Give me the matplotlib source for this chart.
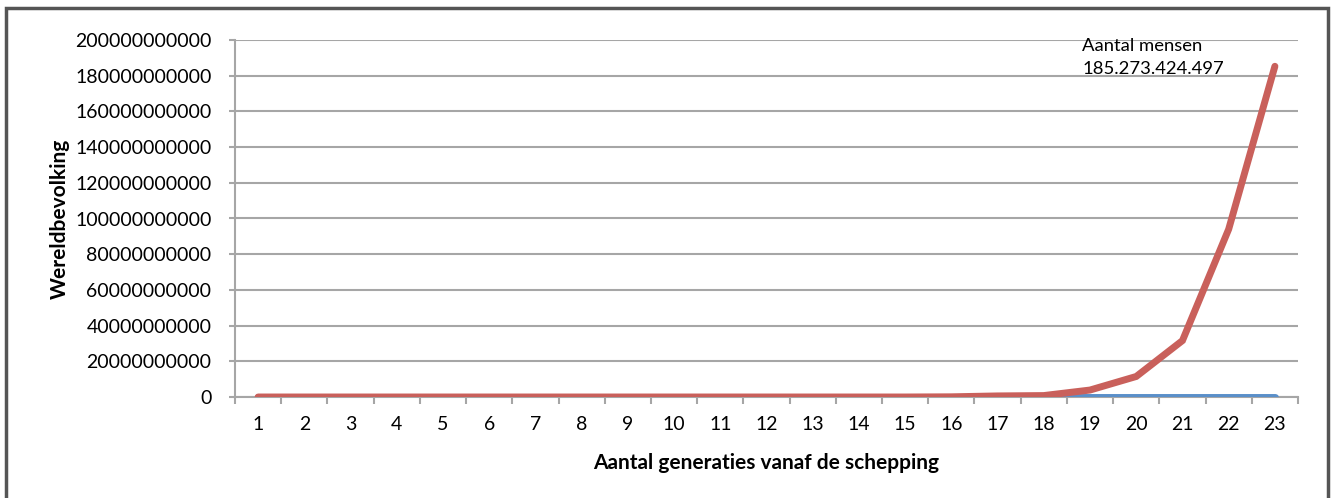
######################################
# Wereldbevolking per generatie
# line chart (Excel look)
######################################

import numpy as np

import matplotlib as mpl

import matplotlib.pyplot as plt

from matplotlib.patches import Rectangle


################
### Data
################

# generations since creation
generaties = list(range(1, 24))

# number of people (red series)
mensen = [0, 0, 0, 0, 0, 0, 0, 0, 0, 0, 0, 0, 0, 0, 0,
          0.1e9, 0.6e9, 0.8e9, 3.9e9, 11.5e9, 31.6e9, 94.0e9, 185273424497]

# second series (blue), stays near zero
tweede = [0] * 23

yticks = np.arange(0, 200000000001, 20000000000)

annot_txt = 'Aantal mensen\n185.273.424.497'

#################################################
# plot parameters

mpl.rcParams['font.family'] = ['Lato', 'DejaVu Sans']
mpl.rcParams['font.size'] = 14

red  = '#C9605B'
blue = '#5A8FC9'
grid = '#A6A6A6'

fig = plt.figure(figsize=(13.37, 4.98), dpi=100)

ax = fig.add_axes([235/1337, 101/498, (1298-235)/1337, (397-40)/498])

# grid lines
ax.set_yticks(yticks)
ax.set_yticklabels(['%d' % v for v in yticks])
ax.yaxis.grid(True, color=grid, lw=1.5)
ax.set_axisbelow(True)

plt.plot(generaties, tweede, color=blue, lw=5, solid_capstyle='round', zorder=3)
plt.plot(generaties, mensen, color=red, lw=5, solid_capstyle='round',
         solid_joinstyle='miter', zorder=4)

ax.set_xlim(0.5, 23.5)
ax.set_ylim(0, 200000000000)

# category ticks between labels
ax.set_xticks(generaties)
ax.set_xticks(np.arange(0.5, 24, 1), minor=True)
ax.tick_params(axis='x', which='major', length=0, pad=14)
ax.tick_params(axis='x', which='minor', length=5, width=1.5, color=grid)
ax.tick_params(axis='y', length=4, width=1.5, color=grid, pad=13)

for s in ['top', 'right']:
    ax.spines[s].set_visible(False)
for s in ['left', 'bottom']:
    ax.spines[s].set_color(grid)
    ax.spines[s].set_linewidth(1.5)

# axis labels
plt.ylabel('Wereldbevolking', fontweight='bold', fontsize=15, labelpad=4)
plt.xlabel('Aantal generaties vanaf de schepping', fontweight='bold',
           fontsize=15, labelpad=14)

# annotation
ax.text(0.797, 1.006, annot_txt, transform=ax.transAxes, ha='left', va='top',
        fontsize=13.3, linespacing=1.55)

# outer frame
fig.patches.append(Rectangle((6/1337, -0.05), (1328-6)/1337, 0.984+0.05,
                             transform=fig.transFigure, fill=False,
                             edgecolor='#555555', lw=2.5))

plt.savefig('out.png', dpi=100)
